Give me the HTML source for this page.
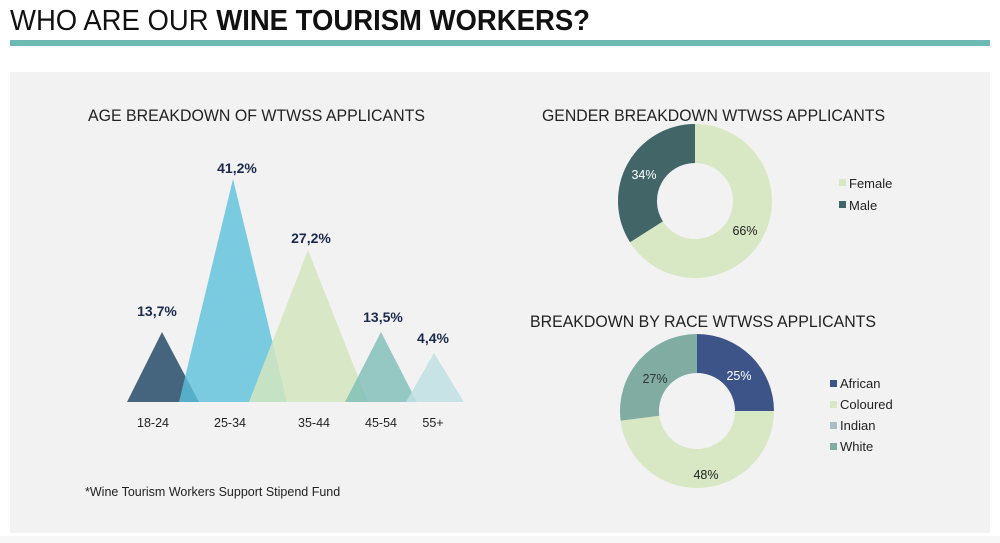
<!DOCTYPE html>
<html><head><style>
html,body{margin:0;padding:0;background:#fff;}
svg{display:block;font-family:"Liberation Sans",sans-serif;}
</style></head><body>
<svg width="1000" height="543" viewBox="0 0 1000 543">
<rect width="1000" height="543" fill="#fff"/>
<text x="10" y="30" font-size="29" fill="#111" textLength="580" lengthAdjust="spacingAndGlyphs">WHO ARE OUR <tspan font-weight="bold">WINE TOURISM WORKERS?</tspan></text>
<rect x="10" y="40" width="980" height="6" fill="#6cbab3"/>
<rect x="10" y="72" width="980" height="461" fill="#f2f2f2"/>
<rect x="0" y="536" width="1000" height="7" fill="#f7f7f7"/>

<text x="88" y="121" font-size="16.5" fill="#222" textLength="337" lengthAdjust="spacingAndGlyphs">AGE BREAKDOWN OF WTWSS APPLICANTS</text>
<text x="542" y="121" font-size="16.5" fill="#222" textLength="343" lengthAdjust="spacingAndGlyphs">GENDER BREAKDOWN WTWSS APPLICANTS</text>
<text x="530" y="327" font-size="16.5" fill="#222" textLength="346" lengthAdjust="spacingAndGlyphs">BREAKDOWN BY RACE WTWSS APPLICANTS</text>

<polygon points="127,402 162,332 199,402" fill="#1f4463" opacity="0.82"/>
<polygon points="179,402 233,179 287,402" fill="#5bc0db" opacity="0.8"/>
<polygon points="249,402 308,250 368,402" fill="#d4e6bf" opacity="0.85"/>
<polygon points="345,402 381,332 417,402" fill="#7dbdb6" opacity="0.8"/>
<polygon points="406,402 434,353 464,402" fill="#bfe1e4" opacity="0.85"/>
<g font-size="14" font-weight="bold" fill="#1b2a4a" text-anchor="middle">
<text x="157" y="316">13,7%</text>
<text x="237" y="173">41,2%</text>
<text x="311" y="243">27,2%</text>
<text x="383" y="322">13,5%</text>
<text x="433" y="343">4,4%</text>
</g>
<g font-size="12.5" fill="#222" text-anchor="middle">
<text x="153" y="427">18-24</text>
<text x="230" y="427">25-34</text>
<text x="314" y="427">35-44</text>
<text x="381" y="427">45-54</text>
<text x="433" y="427">55+</text>
</g>
<text x="85" y="496" font-size="12.5" fill="#222">*Wine Tourism Workers Support Stipend Fund</text>

<path d="M695,124 A77,77 0 1 1 630,242.3 L662.9,221.4 A38,38 0 1 0 695,163 Z" fill="#d9e8c4"/>
<path d="M630,242.3 A77,77 0 0 1 695,124 L695,163 A38,38 0 0 0 662.9,221.4 Z" fill="#426568"/>
<text x="644" y="179" font-size="12.5" fill="#fff" text-anchor="middle">34%</text>
<text x="745" y="235" font-size="12.5" fill="#222" text-anchor="middle">66%</text>
<rect x="839" y="179" width="7" height="7" fill="#d9e8c4"/>
<text x="849" y="188" font-size="13" fill="#222">Female</text>
<rect x="839" y="201" width="7" height="7" fill="#426568"/>
<text x="849" y="210" font-size="13" fill="#222">Male</text>

<path d="M697,334 A77,77 0 0 1 774,411 L735,411 A38,38 0 0 0 697,373 Z" fill="#3c5487"/>
<path d="M774,411 A77,77 0 0 1 620.6,420.6 L659.3,415.8 A38,38 0 0 0 735,411 Z" fill="#d9e8c4"/>
<path d="M620.6,420.6 A77,77 0 0 1 697,334 L697,373 A38,38 0 0 0 659.3,415.8 Z" fill="#80aca2"/>
<text x="739" y="380" font-size="12.5" fill="#fff" text-anchor="middle">25%</text>
<text x="655" y="383" font-size="12.5" fill="#333" text-anchor="middle">27%</text>
<text x="706" y="479" font-size="12.5" fill="#222" text-anchor="middle">48%</text>
<rect x="830" y="380" width="7" height="7" fill="#3c5487"/>
<text x="840" y="388" font-size="13" fill="#222">African</text>
<rect x="830" y="401" width="7" height="7" fill="#d9e8c4"/>
<text x="840" y="409" font-size="13" fill="#222">Coloured</text>
<rect x="830" y="422" width="7" height="7" fill="#a6bfc6"/>
<text x="840" y="430" font-size="13" fill="#222">Indian</text>
<rect x="830" y="443" width="7" height="7" fill="#80aca2"/>
<text x="840" y="451" font-size="13" fill="#222">White</text>
</svg>
</body></html>
